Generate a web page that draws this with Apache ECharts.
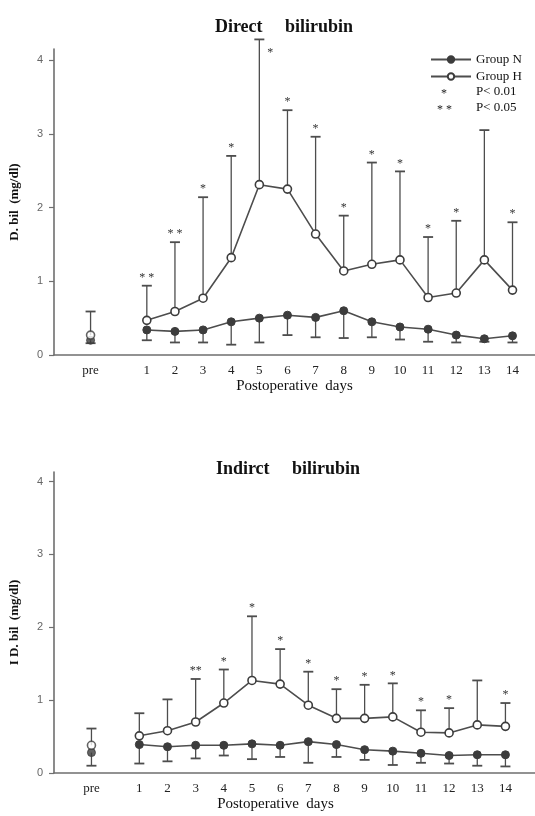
<!DOCTYPE html>
<html><head><meta charset="utf-8">
<script src="https://cdn.jsdelivr.net/npm/echarts@6/dist/echarts.min.js"></script>
<style>html,body{margin:0;padding:0;background:#fff}#c{width:535px;height:816px}</style>
</head><body><div id="c"></div>
<script>
// ---- data ----
const days = [1,2,3,4,5,6,7,8,9,10,11,12,13,14];
const dayLabels = ['1','2','3','4','5','6','7','8','9','10','11','12','13','14'];
const yTicks = [0,1,2,3,4];

// Direct bilirubin (mg/dl)
const dirPreN = 0.20, dirPreNLow = 0.16, dirPreH = 0.27, dirPreHHigh = 0.59;
const dirN     = [0.34,0.32,0.34,0.45,0.50,0.54,0.51,0.60,0.45,0.38,0.35,0.27,0.22,0.26];
const dirNLow  = [0.20,0.17,0.17,0.14,0.17,0.27,0.24,0.23,0.24,0.21,0.18,0.17,0.18,0.17];
const dirH     = [0.47,0.59,0.77,1.32,2.31,2.25,1.64,1.14,1.23,1.29,0.78,0.84,1.29,0.88];
const dirHHigh = [0.94,1.53,2.14,2.70,4.28,3.32,2.96,1.89,2.61,2.49,1.60,1.82,3.05,1.80];
const dirSig   = ['* *','* *','*','*','*','*','*','*','*','*','*','*','','*'];

// Indirect bilirubin (mg/dl)
const indPreN = 0.28, indPreNLow = 0.10, indPreH = 0.38, indPreHHigh = 0.61;
const indN     = [0.39,0.36,0.38,0.38,0.40,0.38,0.43,0.39,0.32,0.30,0.27,0.24,0.25,0.25];
const indNLow  = [0.13,0.16,0.20,0.24,0.19,0.22,0.14,0.22,0.18,0.11,0.14,0.13,0.10,0.09];
const indH     = [0.51,0.58,0.70,0.96,1.27,1.22,0.93,0.75,0.75,0.77,0.56,0.55,0.66,0.64];
const indHHigh = [0.82,1.01,1.29,1.42,2.15,1.70,1.39,1.15,1.21,1.23,0.86,0.89,1.27,0.96];
const indSig   = ['','','**','*','*','*','*','*','*','*','*','*','','*'];

// ---- styling / layout ----
const SERIF = '"Liberation Serif","DejaVu Serif",serif';
const SANS = '"Liberation Sans","DejaVu Sans",sans-serif';
const LINE = '#4d4d4d';
const AXIS = '#6f6f6f';
const PRE_TOP = -1, PRE_BOT = -0.7;
const Y_MAX_TOP = 4.15, Y_MAX_BOT = 4.13;

const chart = echarts.init(document.getElementById('c'), null, {renderer: 'canvas'});

function errSeries(gi, xs, means, ends) {
  return {
    type: 'custom', xAxisIndex: gi, yAxisIndex: gi, clip: false, z: 1, silent: true,
    encode: {x: 0, y: [1, 2]},
    data: xs.map((x, i) => [x, means[i], ends[i]]),
    renderItem(params, api) {
      const p = api.coord([api.value(0), api.value(1)]);
      const e = api.coord([api.value(0), api.value(2)]);
      return {type: 'group', children: [
        {type: 'line', shape: {x1: p[0], y1: p[1], x2: e[0], y2: e[1]}, style: {stroke: LINE, lineWidth: 1.3}},
        {type: 'line', shape: {x1: e[0] - 5, y1: e[1], x2: e[0] + 5, y2: e[1]}, style: {stroke: LINE, lineWidth: 1.8}}
      ]};
    }
  };
}

function sigSeries(gi, highs, sig, yMax) {
  return {
    type: 'custom', xAxisIndex: gi, yAxisIndex: gi, clip: false, z: 5, silent: true,
    encode: {x: 0, y: 1},
    data: days.map((d, i) => [d, highs[i], i]),
    renderItem(params, api) {
      const i = api.value(2);
      const s = sig[i];
      if (!s) return null;
      const v = api.value(1);
      let p;
      let dx = 0, dy = -8;
      if (v > yMax) { p = api.coord([api.value(0), yMax]); dx = 11; dy = 4; }
      else p = api.coord([api.value(0), v]);
      return {type: 'text', x: p[0] + dx, y: p[1] + dy,
        style: {text: s, fill: '#333', font: '12px ' + SERIF, textAlign: 'center', textVerticalAlign: 'middle'}};
    }
  };
}

function lineSeries(gi, name, vals, filled) {
  return {
    type: 'line', name, xAxisIndex: gi, yAxisIndex: gi, z: 3,
    data: days.map((d, i) => [d, vals[i]]),
    symbol: 'circle', symbolSize: 8, showSymbol: true,
    lineStyle: {color: LINE, width: 1.6},
    itemStyle: filled ? {color: '#3c3c3c', borderColor: '#3c3c3c', borderWidth: 1}
                      : {color: '#ffffff', borderColor: '#3c3c3c', borderWidth: 1.6},
    emphasis: {disabled: true}, animation: false
  };
}

function preSeries(gi, name, x, v, filled) {
  return {
    type: 'scatter', name, xAxisIndex: gi, yAxisIndex: gi, z: filled ? 3 : 4,
    data: [[x, v]], symbol: 'circle', symbolSize: 8,
    itemStyle: filled ? {color: '#3c3c3c', borderColor: '#3c3c3c', borderWidth: 1}
                      : {color: '#ffffff', borderColor: '#3c3c3c', borderWidth: 1.6},
    emphasis: {disabled: true}, animation: false
  };
}

function xAxisCfg(gi, min, max, preX, nameShiftPad) {
  return {
    type: 'value', gridIndex: gi, min, max,
    name: 'Postoperative  days', nameLocation: 'middle', nameGap: 24,
    nameTextStyle: {fontFamily: SERIF, fontSize: 15, color: '#111', padding: [0, nameShiftPad, 0, 0]},
    axisLine: {show: true, onZero: false, lineStyle: {color: AXIS, width: 1.6}},
    axisTick: {show: false},
    splitLine: {show: false},
    axisLabel: {
      customValues: [preX].concat(days), margin: 9,
      fontFamily: SERIF, fontSize: 13, color: '#222',
      formatter: v => Math.abs(v - preX) < 1e-6 ? 'pre' : dayLabels[days.indexOf(Math.round(v))]
    }
  };
}

function yAxisCfg(gi, max, name) {
  return {
    type: 'value', gridIndex: gi, min: 0, max,
    name, nameLocation: 'middle', nameGap: 33, nameRotate: 90,
    nameTextStyle: {fontFamily: SERIF, fontSize: 13, fontWeight: 'bold', color: '#111'},
    axisLine: {show: true, onZero: false, lineStyle: {color: AXIS, width: 1.6}},
    axisTick: {show: true, customValues: yTicks, length: 5, lineStyle: {color: AXIS, width: 1.2}},
    splitLine: {show: false},
    axisLabel: {customValues: yTicks, margin: 11, fontFamily: SANS, fontSize: 11, color: '#666'}
  };
}

const option = {
  animation: false,
  backgroundColor: '#ffffff',
  title: [
    {text: 'Direct     bilirubin', left: 279, top: 13, textAlign: 'center',
     textStyle: {fontFamily: SERIF, fontSize: 18, fontWeight: 'bold', color: '#111'}},
    {text: 'Indirct     bilirubin', left: 283, top: 455, textAlign: 'center',
     textStyle: {fontFamily: SERIF, fontSize: 18, fontWeight: 'bold', color: '#111'}}
  ],
  legend: {
    data: ['Group N', 'Group H'], orient: 'vertical', left: 425, top: 48,
    itemWidth: 40, itemHeight: 8, itemGap: 4,
    textStyle: {fontFamily: SERIF, fontSize: 13, color: '#111'}
  },
  graphic: [
    {type: 'text', left: 441, top: 88, style: {text: '*', font: '12px ' + SERIF, fill: '#222'}},
    {type: 'text', left: 476, top: 85, style: {text: 'P< 0.01', font: '13px ' + SERIF, fill: '#111'}},
    {type: 'text', left: 437, top: 104, style: {text: '* *', font: '12px ' + SERIF, fill: '#222'}},
    {type: 'text', left: 476, top: 101, style: {text: 'P< 0.05', font: '13px ' + SERIF, fill: '#111'}}
  ],
  grid: [
    {left: 52, top: 49, width: 483, height: 306},
    {left: 50, top: 472, width: 485, height: 301}
  ],
  xAxis: [xAxisCfg(0, -2.3, 14.8, PRE_TOP, 0), xAxisCfg(1, -2.03, 15.05, PRE_BOT, 38)],
  yAxis: [yAxisCfg(0, Y_MAX_TOP, 'D. bil  (mg/dl)'), yAxisCfg(1, Y_MAX_BOT, 'I D. bil  (mg/dl)')],
  series: [
    // top
    errSeries(0, [PRE_TOP].concat(days), [dirPreH].concat(dirH), [dirPreHHigh].concat(dirHHigh)),
    errSeries(0, [PRE_TOP].concat(days), [dirPreN].concat(dirN), [dirPreNLow].concat(dirNLow)),
    lineSeries(0, 'Group N', dirN, true),
    lineSeries(0, 'Group H', dirH, false),
    preSeries(0, 'Group N', PRE_TOP, dirPreN, true),
    preSeries(0, 'Group H', PRE_TOP, dirPreH, false),
    sigSeries(0, dirHHigh, dirSig, Y_MAX_TOP),
    // bottom
    errSeries(1, [PRE_BOT].concat(days), [indPreH].concat(indH), [indPreHHigh].concat(indHHigh)),
    errSeries(1, [PRE_BOT].concat(days), [indPreN].concat(indN), [indPreNLow].concat(indNLow)),
    lineSeries(1, 'Group N', indN, true),
    lineSeries(1, 'Group H', indH, false),
    preSeries(1, 'Group N', PRE_BOT, indPreN, true),
    preSeries(1, 'Group H', PRE_BOT, indPreH, false),
    sigSeries(1, indHHigh, indSig, Y_MAX_BOT)
  ]
};
chart.setOption(option);
</script>
</body></html>
